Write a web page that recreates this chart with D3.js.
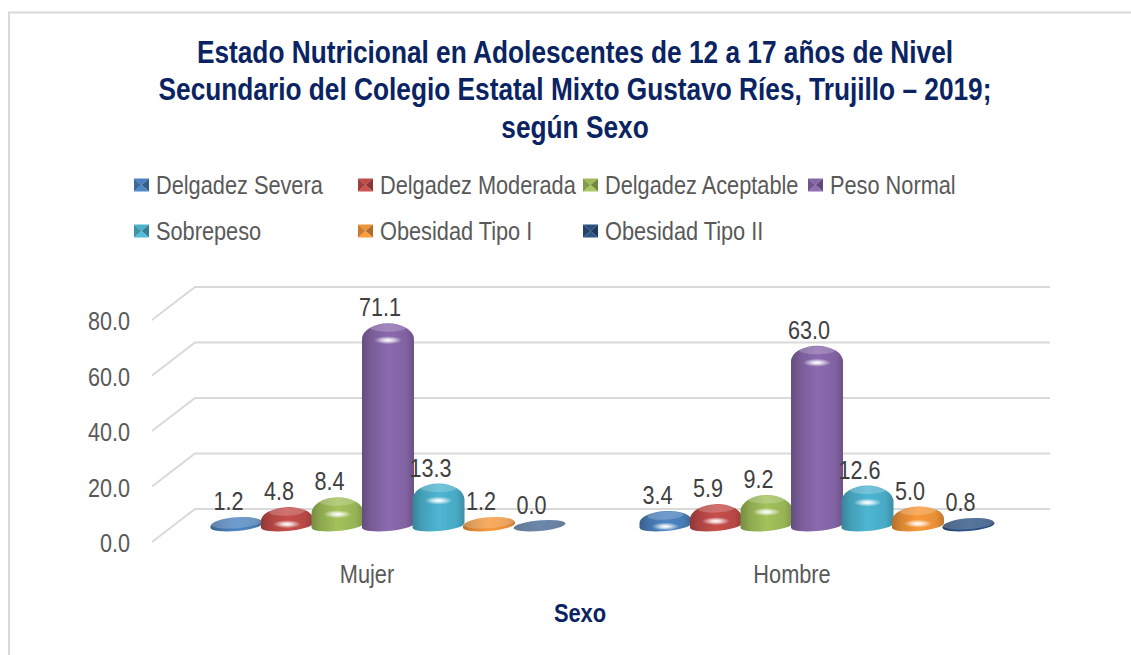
<!DOCTYPE html>
<html>
<head>
<meta charset="utf-8">
<script src="https://d3js.org/d3.v7.min.js"></script>
<style>
    body { margin: 0; background: #fff; }
    svg { display: block; }
    text { font-family: "Liberation Sans", Arial, sans-serif; fill: #404040; }
    .title, .axisTitle { font-weight: bold; fill: #0a2463; }
    .grid { stroke: #d9d9d9; stroke-width: 2px; fill: none; }
</style>
</head>
<body>
<svg width="1131" height="655"></svg>
<script>
    var titleLines = [
        "Estado Nutricional en Adolescentes de 12 a 17 años de Nivel",
        "Secundario del Colegio Estatal Mixto Gustavo Ríes, Trujillo – 2019;",
        "según Sexo"
    ];
    var categories = ["Mujer", "Hombre"];
    var seriesNames = ["Delgadez Severa", "Delgadez Moderada", "Delgadez Aceptable", "Peso Normal",
        "Sobrepeso", "Obesidad Tipo I", "Obesidad Tipo II"];
    var mujerValues = [1.2, 4.8, 8.4, 71.1, 13.3, 1.2, 0.0];
    var hombreValues = [3.4, 5.9, 9.2, 63.0, 12.6, 5.0, 0.8];
    var yTicks = [0, 20, 40, 60, 80];
    var colors = ["#4a80bb", "#bf4b48", "#9dbb58", "#8666a8", "#4bb0cc", "#f09438", "#2a5080"];

    var svg = d3.select("svg");
    var defs = svg.append("defs");

    // fake 3d: the back wall sits up and to the right of the front plane
    var depthX = 43, depthY = 33;

    var y = d3.scaleLinear().domain([0, 80]).range([542, 320]);
    var x0 = d3.scaleBand().domain(categories).range([173.5, 1031.5]);
    var x1 = d3.scaleBand().domain(seriesNames).range([-176.75, 176.75]);
    // category labels sit on the front plane, slightly closer together than the bars
    var xLabels = d3.scaleBand().domain(categories).range([154.5, 1004.5]);

    // no narrow font installed, so squeeze the text sideways around its anchor
    function squeeze(sel, x, yPos, sx) {
        sel.attr("x", 0).attr("y", 0)
            .attr("transform", "translate(" + x + "," + yPos + ") scale(" + sx + ",1)");
    }

    // frame, open on the right and at the bottom
    svg.append("path")
        .attr("d", "M9,655V12.5H1131")
        .attr("fill", "none")
        .attr("stroke", "#d9d9d9")
        .attr("stroke-width", 2);

    // title
    svg.selectAll(".title")
        .data(titleLines)
        .enter().append("text")
        .attr("class", "title")
        .attr("text-anchor", "middle")
        .style("font-size", "31px")
        .text(function (d) { return d; })
        .each(function (d, i) {
            squeeze(d3.select(this), 575, 62.5 + i * 37.5, 0.847);
        });

    // gradients
    seriesNames.forEach(function (name, i) {
        var c = d3.color(colors[i]);
        var g = defs.append("linearGradient").attr("id", "bar" + i);
        g.append("stop").attr("offset", "0%").attr("stop-color", c.darker(0.8));
        g.append("stop").attr("offset", "18%").attr("stop-color", c.darker(0.3));
        g.append("stop").attr("offset", "50%").attr("stop-color", c.brighter(0.1));
        g.append("stop").attr("offset", "84%").attr("stop-color", c.darker(0.1));
        g.append("stop").attr("offset", "100%").attr("stop-color", c.darker(0.6));
    });
    var glow = defs.append("radialGradient").attr("id", "glow");
    glow.append("stop").attr("offset", "0%").attr("stop-color", "#fff").attr("stop-opacity", 1);
    glow.append("stop").attr("offset", "30%").attr("stop-color", "#fff").attr("stop-opacity", 0.8);
    glow.append("stop").attr("offset", "100%").attr("stop-color", "#fff").attr("stop-opacity", 0);

    // legend
    var legendX = [134, 358, 583, 808];
    var legend = svg.selectAll(".legend")
        .data(seriesNames)
        .enter().append("g")
        .attr("class", "legend")
        .attr("transform", function (d, i) {
            return "translate(" + legendX[i % 4] + "," + (185 + Math.floor(i / 4) * 46) + ")";
        });
    legend.each(function (d, i) {
        var g = d3.select(this), c = d3.color(colors[i]);
        // bevelled square, four triangles meeting in the middle
        var mid = "7.5,0";
        [["0,-6.5", "15,-6.5", c], ["15,-6.5", "15,6.5", c.darker(0.9)],
            ["15,6.5", "0,6.5", c.brighter(0.2)], ["0,6.5", "0,-6.5", c.darker(0.5)]].forEach(function (t) {
            g.append("polygon")
                .attr("points", t[0] + " " + t[1] + " " + mid)
                .attr("fill", t[2]);
        });
    });
    legend.append("text")
        .style("font-size", "25px")
        .style("fill", "#595959")
        .text(function (d) { return d; })
        .each(function () {
            squeeze(d3.select(this), 22, 9, 0.87);
        });

    // grid, back wall and side wall
    svg.selectAll(".gridLine")
        .data(yTicks)
        .enter().append("path")
        .attr("class", "grid gridLine")
        .attr("d", function (d) {
            return "M152," + y(d) + "L" + (152 + depthX) + "," + (y(d) - depthY) + "H1050";
        });

    // axes
    var yAxis = svg.append("g")
        .attr("transform", "translate(130,0)")
        .call(d3.axisLeft(y).tickValues(yTicks).tickFormat(d3.format(".1f")).tickSize(0));
    yAxis.select(".domain").remove();
    yAxis.selectAll("text")
        .style("font-size", "26px")
        .style("font-family", null)
        .style("fill", "#595959")
        .attr("dy", null)
        .attr("text-anchor", "end")
        .each(function () {
            squeeze(d3.select(this), 0, 9.5, 0.83);
        });

    var xAxis = svg.append("g")
        .attr("transform", "translate(0,583)")
        .call(d3.axisBottom(xLabels).tickSize(0));
    xAxis.select(".domain").remove();
    xAxis.selectAll("text")
        .style("font-size", "25px")
        .style("font-family", null)
        .style("fill", "#595959")
        .attr("dy", null)
        .each(function () {
            squeeze(d3.select(this), 0, 0, 0.87);
        });

    svg.append("text")
        .attr("class", "axisTitle")
        .attr("text-anchor", "middle")
        .style("font-size", "25px")
        .text("Sexo")
        .call(squeeze, 580, 622, 0.875);

    // bars
    var rx = 26, ry = 5.5, maxTilt = 5;
    var baseY = y(0) - 16.5;

    function barHeight(v) { return y(0) - y(v); }
    function apex(v) { return -barHeight(v) - 5; }
    // short bars lean with the floor, tall ones have a level top
    function topTilt(v) { return maxTilt * Math.max(0, 1 - barHeight(v) / 30); }

    function barPath(v) {
        var h = barHeight(v);
        var dy = rx * Math.sin(maxTilt * Math.PI / 180);
        var shoulder = Math.min(ry + h * 0.55, 16);
        var t = apex(v) + shoulder;
        var tdy = rx * Math.sin(topTilt(v) * Math.PI / 180);
        return "M" + (-rx) + "," + dy +
            "A" + rx + "," + ry + " " + (-maxTilt) + " 0 0 " + rx + "," + (-dy) +
            "L" + rx + "," + (t - tdy) +
            "A" + rx + "," + shoulder + " " + (-topTilt(v)) + " 0 0 " + (-rx) + "," + (t + tdy) + "Z";
    }

    categories.forEach(function (cat, ci) {
        var values = ci === 0 ? mujerValues : hombreValues;
        var group = svg.append("g").attr("class", "group");

        function cx(i) {
            return x0(cat) + x0.bandwidth() / 2 + x1(seriesNames[i]) + x1.bandwidth() / 2;
        }

        var bars = group.selectAll(".bar")
            .data(values)
            .enter().append("g")
            .attr("class", "bar")
            .attr("transform", function (d, i) {
                return "translate(" + cx(i) + "," + baseY + ")";
            });

        bars.append("path")
            .attr("d", barPath)
            .attr("fill", function (d, i) { return "url(#bar" + i + ")"; });

        // lighter flat top
        bars.append("ellipse")
            .attr("rx", function (d) { return barHeight(d) > 8 ? 18 : rx; })
            .attr("ry", function (d) { return barHeight(d) > 8 ? 4 : ry; })
            .attr("transform", function (d) {
                var cy = barHeight(d) > 8 ? apex(d) + 4.5 : apex(d) + ry;
                return "translate(0," + cy + ") rotate(" + (-topTilt(d)) + ")";
            })
            .attr("fill", "#fff")
            .attr("opacity", function (d) { return d === 0 ? 0.3 : 0.2; });

        // highlight near the top of the rounded part
        bars.filter(function (d) { return barHeight(d) > 8; }).append("ellipse")
            .attr("cy", function (d) { return Math.min(apex(d) + 17, 1); })
            .attr("rx", 14)
            .attr("ry", 4)
            .attr("fill", "url(#glow)");

        // data labels
        group.selectAll(".value")
            .data(values)
            .enter().append("text")
            .attr("class", "value")
            .attr("text-anchor", "middle")
            .style("font-size", "26px")
            .text(function (d) { return d3.format(".1f")(d); })
            .each(function (d, i) {
                squeeze(d3.select(this), cx(i) - 8, baseY + apex(d) - 7, 0.83);
            });
    });
</script>
</body>
</html>
